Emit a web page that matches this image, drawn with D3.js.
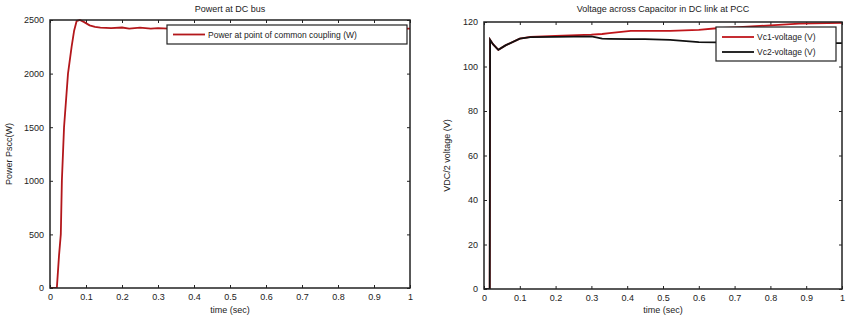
<meta charset="utf-8">
<html>
<head>
<style>
body { margin:0; background:#fff; }
text { font-family: "Liberation Sans", Arial, sans-serif; fill:#222; }
.ttl { font-size:9px; }
.lab { font-size:9px; }
.tick text { font-size:9px; fill:#222; }
.leg { font-size:8.5px; }
</style>
</head>
<body>
<svg width="851" height="321"></svg>
<script src="https://d3js.org/d3.v7.min.js"></script>
<script>

// left chart: power at DC bus
var powT = [0, 0.019, 0.025, 0.03, 0.033, 0.039, 0.05, 0.06, 0.067, 0.074, 0.083, 0.095, 0.11, 0.125, 0.14, 0.17, 0.2, 0.22, 0.25, 0.28, 0.3, 0.33, 0.4, 0.5, 0.6, 0.7, 0.8, 0.9, 1];
var powP = [0, 0, 300, 500, 1000, 1500, 2000, 2250, 2400, 2490, 2500, 2480, 2450, 2435, 2428, 2425, 2430, 2420, 2428, 2420, 2425, 2420, 2422, 2420, 2421, 2420, 2420, 2420, 2420];

// right chart: capacitor voltages
var vT  = [0, 0.016, 0.017, 0.025, 0.04, 0.06, 0.1, 0.13, 0.2, 0.3, 0.33, 0.35, 0.41, 0.45, 0.52, 0.6, 0.65, 0.7, 0.8, 0.88, 1];
var vc1 = [0, 0, 112, 110, 107.5, 109.5, 112.5, 113.3, 113.8, 114.3, 114.6, 115, 116, 116, 116, 116.5, 117.2, 117.6, 118.5, 119.3, 119.6];
var vc2 = [0, 0, 112, 110, 107.5, 109.5, 112.5, 113.2, 113.3, 113.5, 112.5, 112.4, 112.3, 112.3, 112, 111, 110.8, 110.5, 110.5, 110.5, 110.5];

var xTicks = [0, 0.1, 0.2, 0.3, 0.4, 0.5, 0.6, 0.7, 0.8, 0.9, 1];
var pTicks = [0, 500, 1000, 1500, 2000, 2500];
var vTicks = [0, 20, 40, 60, 80, 100, 120];

var svg = d3.select("svg");

function panel(o) {
  var x = d3.scaleLinear().domain([0, 1]).range([o.x0, o.x1]);
  var y = d3.scaleLinear().domain(o.ydom).range([o.y1, o.y0]);
  var g = svg.append("g");

  g.append("rect").attr("x", o.x0).attr("y", o.y0)
    .attr("width", o.x1 - o.x0).attr("height", o.y1 - o.y0).attr("fill", "#fff");

  // ticks inward on all four sides, labels only bottom + left
  g.append("g").attr("transform", "translate(0," + o.y1 + ")")
    .call(d3.axisBottom(x).tickValues(xTicks).tickSize(-3).tickPadding(6).tickFormat(d3.format("")));
  g.append("g").attr("transform", "translate(0," + o.y0 + ")")
    .call(d3.axisTop(x).tickValues(xTicks).tickSize(-3).tickFormat(""));
  g.append("g").attr("transform", "translate(" + o.x0 + ",0)")
    .call(d3.axisLeft(y).tickValues(o.yticks).tickSize(-3).tickPadding(6).tickFormat(d3.format("d")));
  g.append("g").attr("transform", "translate(" + o.x1 + ",0)")
    .call(d3.axisRight(y).tickValues(o.yticks).tickSize(-3).tickFormat(""));
  g.selectAll(".domain").remove();
  g.selectAll(".tick line").attr("stroke", "#222");

  var clip = "clip" + o.id;
  svg.append("clipPath").attr("id", clip).append("rect")
    .attr("x", o.x0).attr("y", o.y0 - 2).attr("width", o.x1 - o.x0).attr("height", o.y1 - o.y0 + 2);

  o.series.forEach(function(s) {
    var line = d3.line().x(function(d, i) { return x(o.t[i]); }).y(function(d) { return y(d); });
    g.append("path").datum(s.v).attr("d", line).attr("fill", "none")
      .attr("stroke", s.color).attr("stroke-width", 1.8).attr("clip-path", "url(#" + clip + ")");
  });

  g.append("rect").attr("x", o.x0).attr("y", o.y0)
    .attr("width", o.x1 - o.x0).attr("height", o.y1 - o.y0)
    .attr("fill", "none").attr("stroke", "#222").attr("stroke-width", 1.5);

  g.append("text").attr("class", "ttl").attr("x", (o.x0 + o.x1) / 2).attr("y", 12)
    .attr("text-anchor", "middle").text(o.title);
  g.append("text").attr("class", "lab").attr("x", (o.x0 + o.x1) / 2).attr("y", 313)
    .attr("text-anchor", "middle").text("time (sec)");
  g.append("text").attr("class", "lab")
    .attr("transform", "translate(" + o.ylx + "," + ((o.y0 + o.y1) / 2) + ") rotate(-90)")
    .attr("text-anchor", "middle").text(o.ylab);

  // legend
  var L = o.legend;
  g.append("rect").attr("x", L.x).attr("y", L.y).attr("width", L.w).attr("height", L.h)
    .attr("fill", "#fff").attr("stroke", "#222").attr("stroke-width", 1.2);
  o.series.forEach(function(s, i) {
    var yy = L.y + L.first + i * L.step;
    g.append("line").attr("x1", L.x + 6).attr("x2", L.x + 38).attr("y1", yy).attr("y2", yy)
      .attr("stroke", s.color).attr("stroke-width", 1.8);
    g.append("text").attr("class", "leg").attr("x", L.x + 41).attr("y", yy + 3).text(s.name);
  });
}

panel({
  id: "a", x0: 50, x1: 410, y0: 20, y1: 288, ydom: [0, 2500], yticks: pTicks,
  t: powT, title: "Powert at DC bus", ylab: "Power Pscc(W)", ylx: 12,
  series: [{ v: powP, color: "#b3171b", name: "Power at point of common coupling (W)" }],
  legend: { x: 167, y: 25, w: 240, h: 19, first: 9.5, step: 15 }
});

panel({
  id: "b", x0: 484, x1: 842, y0: 22, y1: 289, ydom: [0, 120], yticks: vTicks,
  t: vT, title: "Voltage across Capacitor in DC link at PCC", ylab: "VDC/2 voltage (V)", ylx: 450,
  series: [
    { v: vc1, color: "#c0161b", name: "Vc1-voltage (V)" },
    { v: vc2, color: "#111", name: "Vc2-voltage (V)" }
  ],
  legend: { x: 716, y: 27, w: 120, h: 34, first: 10, step: 15 }
});

</script>
</body>
</html>
